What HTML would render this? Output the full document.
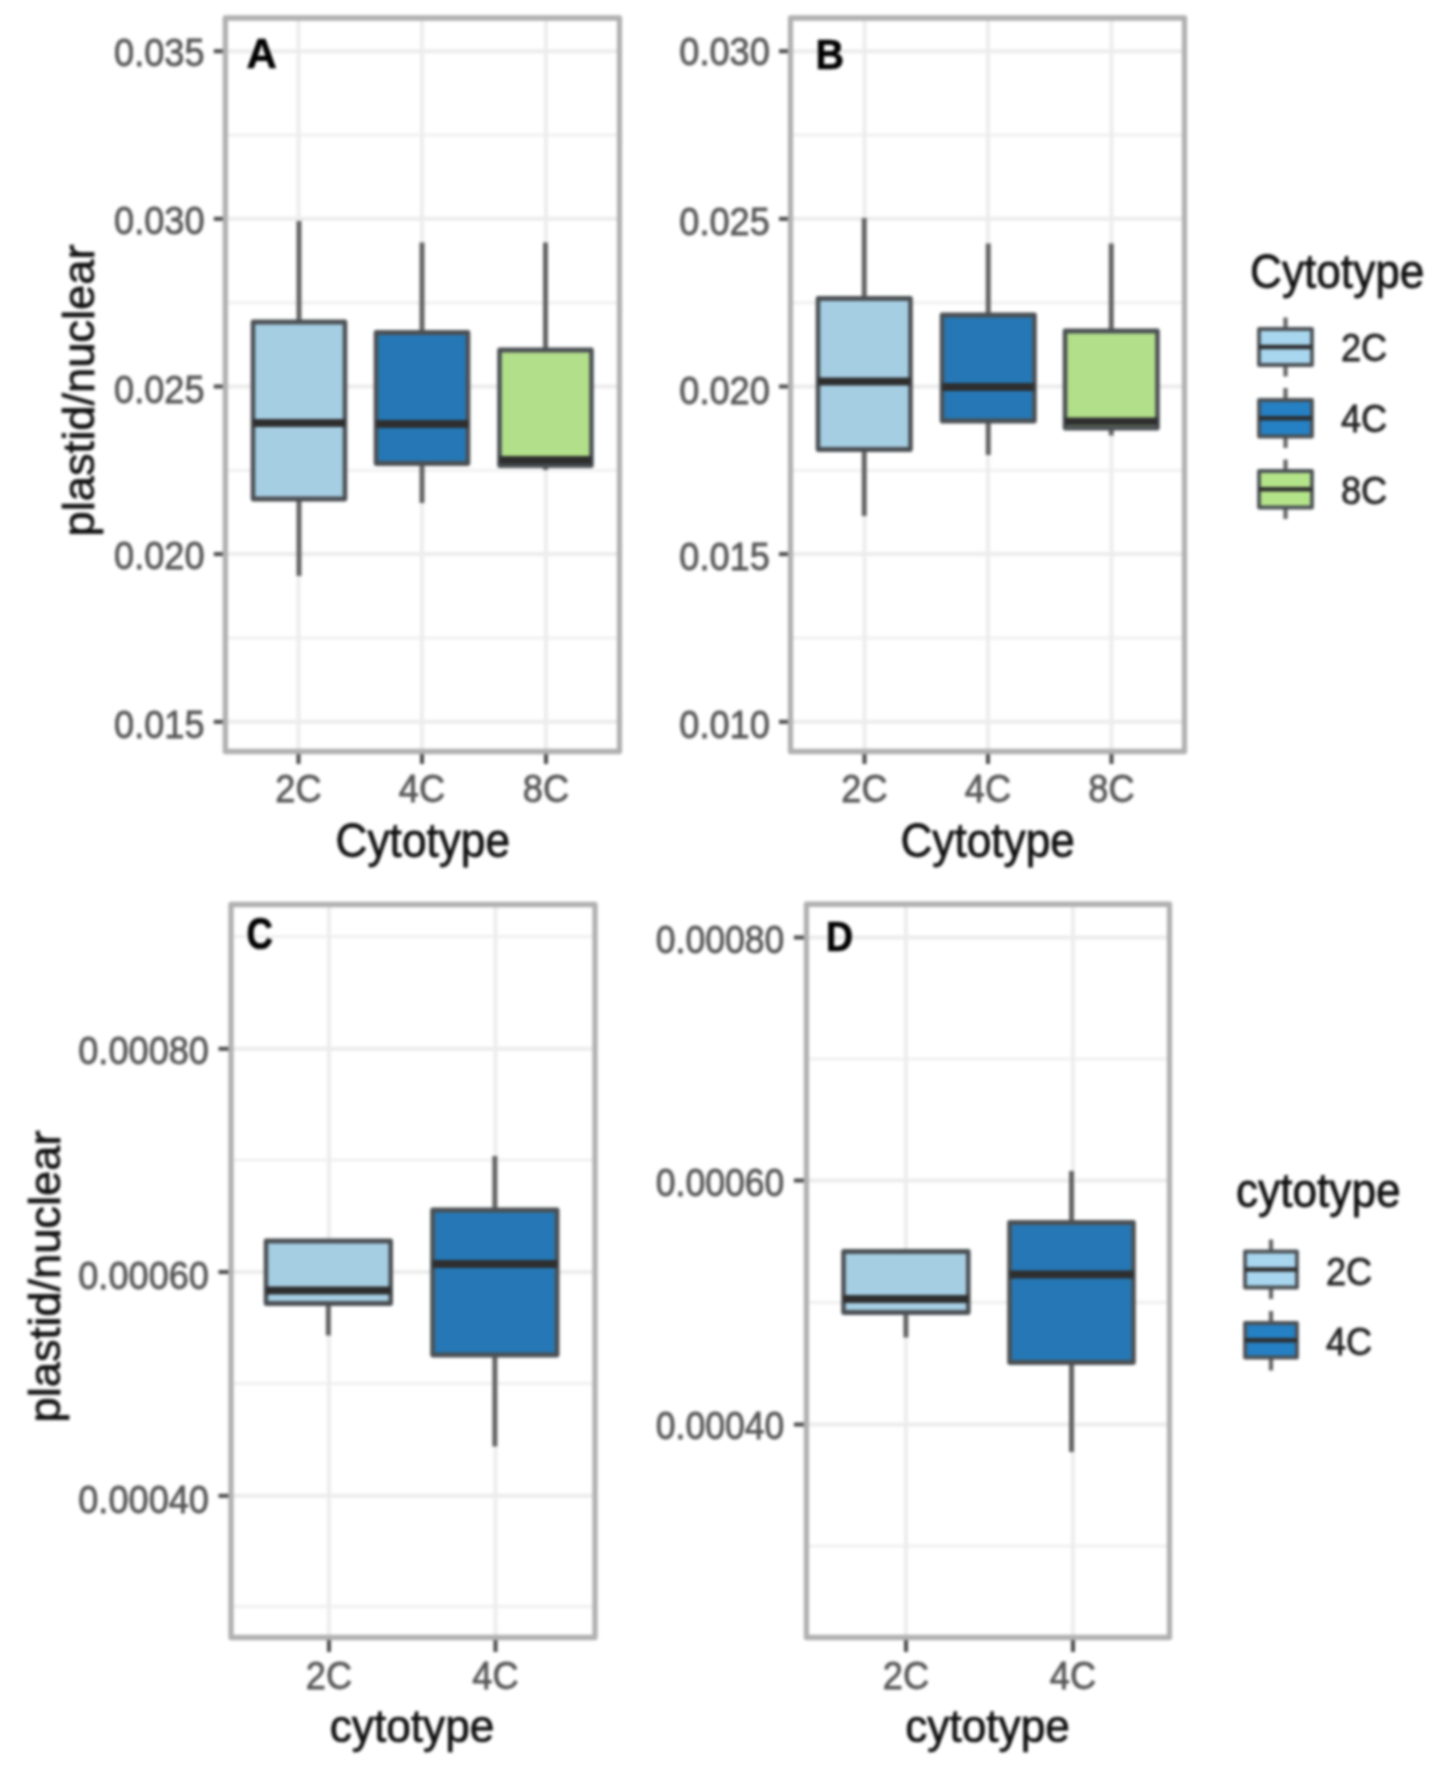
<!DOCTYPE html>
<html lang="en"><head><meta charset="utf-8"><title>plastid/nuclear by cytotype</title>
<style>
html,body{margin:0;padding:0;background:#fff;}
body{width:1441px;height:1770px;overflow:hidden;}
svg{display:block;font-family:"Liberation Sans",Arial,Helvetica,sans-serif;filter:blur(1.6px);}
.ax{font-size:36.2px;fill:#555;stroke:#555;stroke-width:0.7px;}
.ti{font-size:44.2px;fill:#111;stroke:#111;stroke-width:0.7px;}
.lg{font-size:36.2px;fill:#222;stroke:#222;stroke-width:0.7px;}
.lt{font-weight:bold;fill:#000;stroke:#000;stroke-width:0.6px;}
</style></head><body>
<svg width="1441" height="1770" viewBox="0 0 1441 1770">
<rect x="0" y="0" width="1441" height="1770" fill="#fff"/>
<g transform="scale(1,1.045)">
<rect x="225.3" y="17.22" width="394.2" height="701.91" fill="#fff"/>
<line x1="225.3" x2="619.5" y1="129.19" y2="129.19" stroke="#f0f0f0" stroke-width="3"/>
<line x1="225.3" x2="619.5" y1="289.67" y2="289.67" stroke="#f0f0f0" stroke-width="3"/>
<line x1="225.3" x2="619.5" y1="450.05" y2="450.05" stroke="#f0f0f0" stroke-width="3"/>
<line x1="225.3" x2="619.5" y1="610.53" y2="610.53" stroke="#f0f0f0" stroke-width="3"/>
<line x1="225.3" x2="619.5" y1="49.0" y2="49.0" stroke="#ececec" stroke-width="3.8"/>
<line x1="225.3" x2="619.5" y1="209.43" y2="209.43" stroke="#ececec" stroke-width="3.8"/>
<line x1="225.3" x2="619.5" y1="369.86" y2="369.86" stroke="#ececec" stroke-width="3.8"/>
<line x1="225.3" x2="619.5" y1="530.24" y2="530.24" stroke="#ececec" stroke-width="3.8"/>
<line x1="225.3" x2="619.5" y1="690.72" y2="690.72" stroke="#ececec" stroke-width="3.8"/>
<line x1="298.5" x2="298.5" y1="17.22" y2="719.14" stroke="#ececec" stroke-width="3.8"/>
<line x1="422" x2="422" y1="17.22" y2="719.14" stroke="#ececec" stroke-width="3.8"/>
<line x1="546" x2="546" y1="17.22" y2="719.14" stroke="#ececec" stroke-width="3.8"/>
<line x1="213.8" x2="225.3" y1="49.0" y2="49.0" stroke="#484848" stroke-width="3.8"/>
<text transform="translate(204.60000000000002,62.87) scale(1,1.035)" text-anchor="end" class="ax">0.035</text>
<line x1="213.8" x2="225.3" y1="209.43" y2="209.43" stroke="#484848" stroke-width="3.8"/>
<text transform="translate(204.60000000000002,224.26) scale(1,1.035)" text-anchor="end" class="ax">0.030</text>
<line x1="213.8" x2="225.3" y1="369.86" y2="369.86" stroke="#484848" stroke-width="3.8"/>
<text transform="translate(204.60000000000002,385.45) scale(1,1.035)" text-anchor="end" class="ax">0.025</text>
<line x1="213.8" x2="225.3" y1="530.24" y2="530.24" stroke="#484848" stroke-width="3.8"/>
<text transform="translate(204.60000000000002,544.59) scale(1,1.035)" text-anchor="end" class="ax">0.020</text>
<line x1="213.8" x2="225.3" y1="690.72" y2="690.72" stroke="#484848" stroke-width="3.8"/>
<text transform="translate(204.60000000000002,705.84) scale(1,1.035)" text-anchor="end" class="ax">0.015</text>
<line x1="298.5" x2="298.5" y1="719.14" y2="731.1" stroke="#484848" stroke-width="4"/>
<text transform="translate(298.5,767.94) scale(1,1.035)" text-anchor="middle" class="ax">2C</text>
<line x1="422" x2="422" y1="719.14" y2="731.1" stroke="#484848" stroke-width="4"/>
<text transform="translate(422,767.94) scale(1,1.035)" text-anchor="middle" class="ax">4C</text>
<line x1="546" x2="546" y1="719.14" y2="731.1" stroke="#484848" stroke-width="4"/>
<text transform="translate(546,767.94) scale(1,1.035)" text-anchor="middle" class="ax">8C</text>
<text transform="translate(422.8,819.9) scale(1,1.03)" text-anchor="middle" class="ti">Cytotype</text>
<text transform="translate(246.5,65.36) scale(1,0.985)" text-anchor="start" class="lt" style="font-size:42px">A</text>
<line x1="299.0" x2="299.0" y1="211.48" y2="308.13" stroke="#626262" stroke-width="5"/>
<line x1="299.0" x2="299.0" y1="477.51" y2="551.2" stroke="#626262" stroke-width="5"/>
<rect x="253" y="308.13" width="92" height="169.38" fill="#a6cee3" stroke="#4b5054" stroke-width="4.6" stroke-linejoin="round"/>
<line x1="253" x2="345" y1="404.78" y2="404.78" stroke="#2e2e2e" stroke-width="7.5"/>
<line x1="422.0" x2="422.0" y1="232.06" y2="318.18" stroke="#626262" stroke-width="5"/>
<line x1="422.0" x2="422.0" y1="443.54" y2="481.34" stroke="#626262" stroke-width="5"/>
<rect x="376" y="318.18" width="92" height="125.36" fill="#2578b5" stroke="#4b5054" stroke-width="4.6" stroke-linejoin="round"/>
<line x1="376" x2="468" y1="405.74" y2="405.74" stroke="#2e2e2e" stroke-width="7.5"/>
<line x1="545.5" x2="545.5" y1="232.06" y2="334.93" stroke="#626262" stroke-width="5"/>
<line x1="545.5" x2="545.5" y1="445.45" y2="449.76" stroke="#626262" stroke-width="5"/>
<rect x="499.5" y="334.93" width="92.0" height="110.53" fill="#b2df8a" stroke="#4b5054" stroke-width="4.6" stroke-linejoin="round"/>
<line x1="499.5" x2="591.5" y1="440.19" y2="440.19" stroke="#2e2e2e" stroke-width="7.5"/>
<rect x="225.3" y="17.22" width="394.2" height="701.91" fill="none" stroke="#b0b0b0" stroke-width="5.3" stroke-linejoin="round"/>
<rect x="790.5" y="17.22" width="394.0" height="701.91" fill="#fff"/>
<line x1="790.5" x2="1184.5" y1="129.19" y2="129.19" stroke="#f0f0f0" stroke-width="3"/>
<line x1="790.5" x2="1184.5" y1="289.67" y2="289.67" stroke="#f0f0f0" stroke-width="3"/>
<line x1="790.5" x2="1184.5" y1="450.05" y2="450.05" stroke="#f0f0f0" stroke-width="3"/>
<line x1="790.5" x2="1184.5" y1="610.53" y2="610.53" stroke="#f0f0f0" stroke-width="3"/>
<line x1="790.5" x2="1184.5" y1="49.0" y2="49.0" stroke="#ececec" stroke-width="3.8"/>
<line x1="790.5" x2="1184.5" y1="209.43" y2="209.43" stroke="#ececec" stroke-width="3.8"/>
<line x1="790.5" x2="1184.5" y1="369.86" y2="369.86" stroke="#ececec" stroke-width="3.8"/>
<line x1="790.5" x2="1184.5" y1="530.24" y2="530.24" stroke="#ececec" stroke-width="3.8"/>
<line x1="790.5" x2="1184.5" y1="690.72" y2="690.72" stroke="#ececec" stroke-width="3.8"/>
<line x1="864.5" x2="864.5" y1="17.22" y2="719.14" stroke="#ececec" stroke-width="3.8"/>
<line x1="988" x2="988" y1="17.22" y2="719.14" stroke="#ececec" stroke-width="3.8"/>
<line x1="1111.5" x2="1111.5" y1="17.22" y2="719.14" stroke="#ececec" stroke-width="3.8"/>
<line x1="779.0" x2="790.5" y1="49.0" y2="49.0" stroke="#484848" stroke-width="3.8"/>
<text transform="translate(769.8,62.49) scale(1,1.035)" text-anchor="end" class="ax">0.030</text>
<line x1="779.0" x2="790.5" y1="209.43" y2="209.43" stroke="#484848" stroke-width="3.8"/>
<text transform="translate(769.8,224.55) scale(1,1.035)" text-anchor="end" class="ax">0.025</text>
<line x1="779.0" x2="790.5" y1="369.86" y2="369.86" stroke="#484848" stroke-width="3.8"/>
<text transform="translate(769.8,386.6) scale(1,1.035)" text-anchor="end" class="ax">0.020</text>
<line x1="779.0" x2="790.5" y1="530.24" y2="530.24" stroke="#484848" stroke-width="3.8"/>
<text transform="translate(769.8,545.17) scale(1,1.035)" text-anchor="end" class="ax">0.015</text>
<line x1="779.0" x2="790.5" y1="690.72" y2="690.72" stroke="#484848" stroke-width="3.8"/>
<text transform="translate(769.8,706.22) scale(1,1.035)" text-anchor="end" class="ax">0.010</text>
<line x1="864.5" x2="864.5" y1="719.14" y2="731.1" stroke="#484848" stroke-width="4"/>
<text transform="translate(864.5,767.94) scale(1,1.035)" text-anchor="middle" class="ax">2C</text>
<line x1="988" x2="988" y1="719.14" y2="731.1" stroke="#484848" stroke-width="4"/>
<text transform="translate(988,767.94) scale(1,1.035)" text-anchor="middle" class="ax">4C</text>
<line x1="1111.5" x2="1111.5" y1="719.14" y2="731.1" stroke="#484848" stroke-width="4"/>
<text transform="translate(1111.5,767.94) scale(1,1.035)" text-anchor="middle" class="ax">8C</text>
<text transform="translate(987.6,819.9) scale(1,1.03)" text-anchor="middle" class="ti">Cytotype</text>
<text transform="translate(815.6,65.65) scale(1,1.05)" text-anchor="start" class="lt" style="font-size:39.5px">B</text>
<line x1="864.25" x2="864.25" y1="208.61" y2="285.65" stroke="#626262" stroke-width="5"/>
<line x1="864.25" x2="864.25" y1="430.14" y2="493.78" stroke="#626262" stroke-width="5"/>
<rect x="818" y="285.65" width="92.5" height="144.5" fill="#a6cee3" stroke="#4b5054" stroke-width="4.6" stroke-linejoin="round"/>
<line x1="818" x2="910.5" y1="365.07" y2="365.07" stroke="#2e2e2e" stroke-width="7.5"/>
<line x1="988.25" x2="988.25" y1="233.01" y2="301.44" stroke="#626262" stroke-width="5"/>
<line x1="988.25" x2="988.25" y1="402.87" y2="435.41" stroke="#626262" stroke-width="5"/>
<rect x="942" y="301.44" width="92.5" height="101.44" fill="#2578b5" stroke="#4b5054" stroke-width="4.6" stroke-linejoin="round"/>
<line x1="942" x2="1034.5" y1="370.33" y2="370.33" stroke="#2e2e2e" stroke-width="7.5"/>
<line x1="1111.25" x2="1111.25" y1="233.01" y2="316.75" stroke="#626262" stroke-width="5"/>
<line x1="1111.25" x2="1111.25" y1="409.57" y2="416.75" stroke="#626262" stroke-width="5"/>
<rect x="1065" y="316.75" width="92.5" height="92.82" fill="#b2df8a" stroke="#4b5054" stroke-width="4.6" stroke-linejoin="round"/>
<line x1="1065" x2="1157.5" y1="403.16" y2="403.16" stroke="#2e2e2e" stroke-width="7.5"/>
<rect x="790.5" y="17.22" width="394.0" height="701.91" fill="none" stroke="#b0b0b0" stroke-width="5.3" stroke-linejoin="round"/>
<text transform="translate(1250,275.6) scale(1,1.03)" text-anchor="start" class="ti">Cytotype</text>
<line x1="1285.5" x2="1285.5" y1="303.83" y2="314.83" stroke="#626262" stroke-width="4.2"/>
<line x1="1285.5" x2="1285.5" y1="349.28" y2="360.29" stroke="#626262" stroke-width="4.2"/>
<rect x="1259" y="314.83" width="53" height="34.45" fill="#a8d6ef" stroke="#4b5054" stroke-width="3.8" stroke-linejoin="round"/>
<line x1="1259" x2="1312" y1="332.06" y2="332.06" stroke="#2e2e2e" stroke-width="4.2"/>
<text transform="translate(1341,345.45) scale(1,1.035)" text-anchor="start" class="lg">2C</text>
<line x1="1285.5" x2="1285.5" y1="371.29" y2="382.78" stroke="#626262" stroke-width="4.2"/>
<line x1="1285.5" x2="1285.5" y1="417.7" y2="428.71" stroke="#626262" stroke-width="4.2"/>
<rect x="1259" y="382.78" width="53" height="34.93" fill="#2580c4" stroke="#4b5054" stroke-width="3.8" stroke-linejoin="round"/>
<line x1="1259" x2="1312" y1="400.24" y2="400.24" stroke="#2e2e2e" stroke-width="4.2"/>
<text transform="translate(1341,412.92) scale(1,1.035)" text-anchor="start" class="lg">4C</text>
<line x1="1285.5" x2="1285.5" y1="439.71" y2="450.72" stroke="#626262" stroke-width="4.2"/>
<line x1="1285.5" x2="1285.5" y1="485.65" y2="496.65" stroke="#626262" stroke-width="4.2"/>
<rect x="1259" y="450.72" width="53" height="34.93" fill="#b4e48a" stroke="#4b5054" stroke-width="3.8" stroke-linejoin="round"/>
<line x1="1259" x2="1312" y1="468.18" y2="468.18" stroke="#2e2e2e" stroke-width="4.2"/>
<text transform="translate(1341,481.82) scale(1,1.035)" text-anchor="start" class="lg">8C</text>
<rect x="231" y="865.45" width="364" height="701.53" fill="#fff"/>
<line x1="231" x2="595" y1="896.17" y2="896.17" stroke="#f0f0f0" stroke-width="3"/>
<line x1="231" x2="595" y1="1110.05" y2="1110.05" stroke="#f0f0f0" stroke-width="3"/>
<line x1="231" x2="595" y1="1323.92" y2="1323.92" stroke="#f0f0f0" stroke-width="3"/>
<line x1="231" x2="595" y1="1537.32" y2="1537.32" stroke="#f0f0f0" stroke-width="3"/>
<line x1="231" x2="595" y1="1003.64" y2="1003.64" stroke="#ececec" stroke-width="3.8"/>
<line x1="231" x2="595" y1="1217.22" y2="1217.22" stroke="#ececec" stroke-width="3.8"/>
<line x1="231" x2="595" y1="1431.39" y2="1431.39" stroke="#ececec" stroke-width="3.8"/>
<line x1="329" x2="329" y1="865.45" y2="1566.99" stroke="#ececec" stroke-width="3.8"/>
<line x1="495.5" x2="495.5" y1="865.45" y2="1566.99" stroke="#ececec" stroke-width="3.8"/>
<line x1="218.5" x2="231" y1="1003.64" y2="1003.64" stroke="#484848" stroke-width="3.8"/>
<text transform="translate(209,1017.99) scale(1,1.035)" text-anchor="end" class="ax">0.00080</text>
<line x1="218.5" x2="231" y1="1217.22" y2="1217.22" stroke="#484848" stroke-width="3.8"/>
<text transform="translate(209,1233.3) scale(1,1.035)" text-anchor="end" class="ax">0.00060</text>
<line x1="218.5" x2="231" y1="1431.39" y2="1431.39" stroke="#484848" stroke-width="3.8"/>
<text transform="translate(209,1447.85) scale(1,1.035)" text-anchor="end" class="ax">0.00040</text>
<line x1="329" x2="329" y1="1566.99" y2="1580.86" stroke="#484848" stroke-width="4"/>
<text transform="translate(329,1615.79) scale(1,1.035)" text-anchor="middle" class="ax">2C</text>
<line x1="495.5" x2="495.5" y1="1566.99" y2="1580.86" stroke="#484848" stroke-width="4"/>
<text transform="translate(495.5,1615.79) scale(1,1.035)" text-anchor="middle" class="ax">4C</text>
<text transform="translate(412,1667.46) scale(1,0.99)" text-anchor="middle" class="ti">cytotype</text>
<text transform="translate(246.6,908.13) scale(1,1.16)" text-anchor="start" class="lt" style="font-size:36.5px">C</text>
<line x1="328.35" x2="328.35" y1="1247.37" y2="1277.99" stroke="#626262" stroke-width="5"/>
<rect x="266" y="1187.56" width="124.69999999999999" height="59.81" fill="#a6cee3" stroke="#4b5054" stroke-width="4.6" stroke-linejoin="round"/>
<line x1="266" x2="390.7" y1="1234.93" y2="1234.93" stroke="#2e2e2e" stroke-width="7.5"/>
<line x1="494.85" x2="494.85" y1="1106.22" y2="1157.89" stroke="#626262" stroke-width="5"/>
<line x1="494.85" x2="494.85" y1="1296.65" y2="1384.21" stroke="#626262" stroke-width="5"/>
<rect x="432.5" y="1157.89" width="124.70000000000005" height="138.76" fill="#2578b5" stroke="#4b5054" stroke-width="4.6" stroke-linejoin="round"/>
<line x1="432.5" x2="557.2" y1="1209.57" y2="1209.57" stroke="#2e2e2e" stroke-width="7.5"/>
<rect x="231" y="865.45" width="364" height="701.53" fill="none" stroke="#b0b0b0" stroke-width="5.3" stroke-linejoin="round"/>
<rect x="806.4" y="865.26" width="363.1" height="701.72" fill="#fff"/>
<line x1="806.4" x2="1169.5" y1="1013.4" y2="1013.4" stroke="#f0f0f0" stroke-width="3"/>
<line x1="806.4" x2="1169.5" y1="1246.41" y2="1246.41" stroke="#f0f0f0" stroke-width="3"/>
<line x1="806.4" x2="1169.5" y1="1479.43" y2="1479.43" stroke="#f0f0f0" stroke-width="3"/>
<line x1="806.4" x2="1169.5" y1="897.13" y2="897.13" stroke="#ececec" stroke-width="3.8"/>
<line x1="806.4" x2="1169.5" y1="1129.67" y2="1129.67" stroke="#ececec" stroke-width="3.8"/>
<line x1="806.4" x2="1169.5" y1="1363.16" y2="1363.16" stroke="#ececec" stroke-width="3.8"/>
<line x1="906" x2="906" y1="865.26" y2="1566.99" stroke="#ececec" stroke-width="3.8"/>
<line x1="1073" x2="1073" y1="865.26" y2="1566.99" stroke="#ececec" stroke-width="3.8"/>
<line x1="793.9" x2="806.4" y1="897.13" y2="897.13" stroke="#484848" stroke-width="3.8"/>
<text transform="translate(784.4,911.58) scale(1,1.035)" text-anchor="end" class="ax" style="font-size:35.6px">0.00080</text>
<line x1="793.9" x2="806.4" y1="1129.67" y2="1129.67" stroke="#484848" stroke-width="3.8"/>
<text transform="translate(784.4,1144.11) scale(1,1.035)" text-anchor="end" class="ax" style="font-size:35.6px">0.00060</text>
<line x1="793.9" x2="806.4" y1="1363.16" y2="1363.16" stroke="#484848" stroke-width="3.8"/>
<text transform="translate(784.4,1377.22) scale(1,1.035)" text-anchor="end" class="ax" style="font-size:35.6px">0.00040</text>
<line x1="906" x2="906" y1="1566.99" y2="1580.86" stroke="#484848" stroke-width="4"/>
<text transform="translate(906,1615.79) scale(1,1.035)" text-anchor="middle" class="ax">2C</text>
<line x1="1073" x2="1073" y1="1566.99" y2="1580.86" stroke="#484848" stroke-width="4"/>
<text transform="translate(1073,1615.79) scale(1,1.035)" text-anchor="middle" class="ax">4C</text>
<text transform="translate(987.5,1667.46) scale(1,0.99)" text-anchor="middle" class="ti">cytotype</text>
<text transform="translate(825.9,909.67) scale(1,1.1)" text-anchor="start" class="lt" style="font-size:37.5px">D</text>
<line x1="905.9" x2="905.9" y1="1255.98" y2="1279.9" stroke="#626262" stroke-width="5"/>
<rect x="843.5" y="1197.61" width="124.79999999999995" height="58.37" fill="#a6cee3" stroke="#4b5054" stroke-width="4.6" stroke-linejoin="round"/>
<line x1="843.5" x2="968.3" y1="1243.06" y2="1243.06" stroke="#2e2e2e" stroke-width="7.5"/>
<line x1="1071.5" x2="1071.5" y1="1120.57" y2="1169.86" stroke="#626262" stroke-width="5"/>
<line x1="1071.5" x2="1071.5" y1="1303.83" y2="1389.47" stroke="#626262" stroke-width="5"/>
<rect x="1009.5" y="1169.86" width="124.0" height="133.97" fill="#2578b5" stroke="#4b5054" stroke-width="4.6" stroke-linejoin="round"/>
<line x1="1009.5" x2="1133.5" y1="1219.62" y2="1219.62" stroke="#2e2e2e" stroke-width="7.5"/>
<rect x="806.4" y="865.26" width="363.1" height="701.72" fill="none" stroke="#b0b0b0" stroke-width="5.3" stroke-linejoin="round"/>
<text transform="translate(1236,1154.55) scale(1,1.03)" text-anchor="start" class="ti">cytotype</text>
<line x1="1271.0" x2="1271.0" y1="1186.12" y2="1197.61" stroke="#626262" stroke-width="4.2"/>
<line x1="1271.0" x2="1271.0" y1="1232.06" y2="1243.06" stroke="#626262" stroke-width="4.2"/>
<rect x="1245" y="1197.61" width="52" height="34.45" fill="#a8d6ef" stroke="#4b5054" stroke-width="3.8" stroke-linejoin="round"/>
<line x1="1245" x2="1297" y1="1214.83" y2="1214.83" stroke="#2e2e2e" stroke-width="4.2"/>
<text transform="translate(1326,1229.67) scale(1,1.035)" text-anchor="start" class="lg">2C</text>
<line x1="1271.0" x2="1271.0" y1="1254.55" y2="1266.03" stroke="#626262" stroke-width="4.2"/>
<line x1="1271.0" x2="1271.0" y1="1299.04" y2="1311.48" stroke="#626262" stroke-width="4.2"/>
<rect x="1245" y="1266.03" width="52" height="33.01" fill="#2580c4" stroke="#4b5054" stroke-width="3.8" stroke-linejoin="round"/>
<line x1="1245" x2="1297" y1="1282.54" y2="1282.54" stroke="#2e2e2e" stroke-width="4.2"/>
<text transform="translate(1326,1296.65) scale(1,1.035)" text-anchor="start" class="lg">4C</text>
</g>
<text transform="translate(94.3,390.5) scale(1,1.025) rotate(-90)" text-anchor="middle" class="ti" style="font-size:44.2px">plastid/nuclear</text>
<text transform="translate(59.8,1276.5) scale(1,1.025) rotate(-90)" text-anchor="middle" class="ti" style="font-size:44.2px">plastid/nuclear</text>
</svg>
</body></html>
